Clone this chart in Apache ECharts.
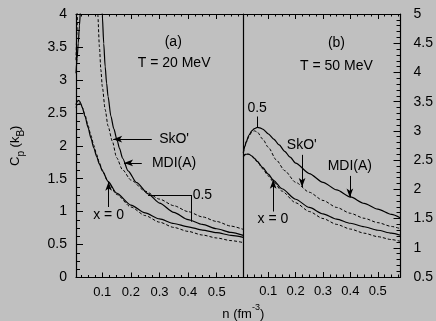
<!DOCTYPE html>
<html><head><meta charset="utf-8">
<script src="https://cdn.jsdelivr.net/npm/echarts@6/dist/echarts.min.js"></script>
<style>html,body{margin:0;padding:0;background:#c0c0c0}#c{width:436px;height:321px}</style>
</head><body><div id="c"></div>
<script>
// ---- tick labels ----
const xMajor = [0.1, 0.2, 0.3, 0.4, 0.5];
const xMinor = [0.025,0.05,0.075,0.125,0.15,0.175,0.225,0.25,0.275,0.325,0.35,0.375,0.425,0.45,0.475,0.525,0.55,0.575];
const yLeftRange = [0, 4];
const yRightRange = [0.5, 5];
const xRangeA = [0.008, 0.593];
const xRangeB = [0.009, 0.583];

// ---- panel (a), T = 20 MeV ----
const a_MDI_x05 = [[0.008,3.1],[0.012,3.33],[0.016,3.56],[0.02,3.82],[0.024,4.08],[0.04,5.0],[0.07,5.0],[0.09,4.6],[0.1,3.98],[0.105,3.55],[0.11,3.2],[0.115,2.95],[0.12,2.75],[0.13,2.45],[0.14,2.26],[0.152,2.08],[0.16,1.96],[0.171,1.81],[0.19,1.62],[0.22,1.44],[0.26,1.27],[0.3,1.13],[0.35,0.99],[0.4,0.88],[0.45,0.805],[0.5,0.74],[0.55,0.685],[0.593,0.64]];
const a_SkO_x05 = [[0.008,3.3],[0.011,3.7],[0.014,4.1],[0.03,5.0],[0.07,5.0],[0.08,4.3],[0.084,4.0],[0.09,3.5],[0.095,3.15],[0.1,2.9],[0.11,2.55],[0.12,2.3],[0.135,2.07],[0.15,1.82],[0.17,1.64],[0.2,1.48],[0.25,1.31],[0.3,1.19],[0.35,1.09],[0.4,1.0],[0.45,0.92],[0.5,0.85],[0.55,0.78],[0.593,0.73]];
const a_MDI_x0 = [[0.008,2.62],[0.012,2.67],[0.016,2.69],[0.02,2.68],[0.025,2.64],[0.03,2.58],[0.04,2.44],[0.05,2.28],[0.06,2.12],[0.07,1.97],[0.08,1.84],[0.09,1.72],[0.1,1.62],[0.12,1.46],[0.15,1.28],[0.2,1.1],[0.25,0.98],[0.3,0.89],[0.35,0.82],[0.4,0.77],[0.45,0.72],[0.5,0.68],[0.55,0.64],[0.593,0.61]];
const a_SkO_x0 = [[0.008,2.58],[0.012,2.62],[0.016,2.64],[0.02,2.645],[0.025,2.62],[0.03,2.58],[0.04,2.46],[0.05,2.31],[0.06,2.16],[0.07,2.01],[0.08,1.87],[0.09,1.74],[0.1,1.63],[0.12,1.45],[0.15,1.26],[0.2,1.07],[0.25,0.94],[0.3,0.84],[0.35,0.76],[0.4,0.7],[0.45,0.645],[0.5,0.6],[0.55,0.56],[0.593,0.53]];

// ---- panel (b), T = 50 MeV ----
const b_MDI_x05 = [[0.009,2.63],[0.015,2.74],[0.02,2.82],[0.03,2.93],[0.04,3.0],[0.05,3.04],[0.06,3.06],[0.07,3.05],[0.08,3.03],[0.1,2.95],[0.12,2.86],[0.14,2.76],[0.16,2.65],[0.18,2.55],[0.2,2.45],[0.25,2.27],[0.3,2.12],[0.35,1.99],[0.4,1.87],[0.45,1.76],[0.5,1.66],[0.55,1.57],[0.583,1.51]];
const b_SkO_x05 = [[0.009,2.62],[0.015,2.74],[0.02,2.81],[0.03,2.91],[0.04,2.98],[0.05,3.0],[0.06,2.98],[0.08,2.86],[0.1,2.72],[0.13,2.5],[0.16,2.32],[0.2,2.12],[0.25,1.95],[0.3,1.81],[0.35,1.69],[0.4,1.59],[0.45,1.505],[0.5,1.43],[0.55,1.365],[0.583,1.325]];
const b_MDI_x0 = [[0.009,2.56],[0.015,2.59],[0.02,2.6],[0.03,2.6],[0.04,2.57],[0.05,2.53],[0.06,2.48],[0.08,2.37],[0.1,2.26],[0.12,2.15],[0.15,2.01],[0.2,1.83],[0.25,1.69],[0.3,1.58],[0.35,1.49],[0.4,1.42],[0.45,1.36],[0.5,1.3],[0.55,1.25],[0.583,1.215]];
const b_SkO_x0 = [[0.009,2.57],[0.015,2.6],[0.02,2.61],[0.03,2.6],[0.04,2.57],[0.05,2.52],[0.06,2.47],[0.08,2.35],[0.1,2.23],[0.12,2.12],[0.15,1.97],[0.2,1.77],[0.25,1.62],[0.3,1.5],[0.35,1.4],[0.4,1.32],[0.45,1.25],[0.5,1.19],[0.55,1.14],[0.583,1.11]];

// ---- annotations (data coordinates) ----
const aTexts = [
  {t:'(a)', c:[0.348,3.58]}, {t:'T = 20 MeV', c:[0.351,3.26]},
  {t:"SkO'", c:[0.351,2.10]}, {t:'MDI(A)', c:[0.351,1.74]},
  {t:'0.5', c:[0.450,1.25]}, {t:'x = 0', c:[0.122,0.944]}
];
const aArrows = [ [[0.273,2.10],[0.138,2.10]], [[0.238,1.74],[0.176,1.74]], [[0.122,1.07],[0.122,1.455]] ];
const aLines = [ [[0.26,1.252],[0.4126,1.252]], [[0.4126,1.252],[0.4126,0.847]] ];
const bTexts = [
  {t:'(b)', c:[0.349,4.5]}, {t:'T = 50 MeV', c:[0.349,4.11]},
  {t:'0.5', c:[0.0596,3.39]}, {t:"SkO'", c:[0.2225,2.75]},
  {t:'MDI(A)', c:[0.398,2.40]}, {t:'x = 0', c:[0.117,1.49]}
];
const bArrows = [ [[0.2236,2.59],[0.2236,2.04]], [[0.398,2.23],[0.398,1.86]], [[0.118,1.62],[0.118,2.165]] ];
const bLines = [ [[0.06,3.246],[0.06,3.053]] ];

const FONT = "'Liberation Sans', Arial, Helvetica, sans-serif";
const BLACK = '#000';

function xAxesFor(grid, range) {
  const base = {type:'value', gridIndex:grid, min:range[0], max:range[1], splitLine:{show:false}};
  const line = {show:true, onZero:false, lineStyle:{color:BLACK, width:1.2}};
  return [
    Object.assign({}, base, {position:'bottom', axisLine:line,
      axisTick:{show:true, inside:true, length:5, customValues:xMajor, lineStyle:{color:BLACK}},
      axisLabel:{customValues:xMajor, margin:8, fontSize:13, color:BLACK, fontFamily:FONT}}),
    Object.assign({}, base, {position:'bottom', axisLine:{show:false, onZero:false},
      axisTick:{show:true, inside:true, length:2.5, customValues:xMinor, lineStyle:{color:BLACK}},
      axisLabel:{show:false}}),
    Object.assign({}, base, {position:'top', axisLine:line,
      axisTick:{show:true, inside:true, length:5, customValues:xMajor, lineStyle:{color:BLACK}},
      axisLabel:{show:false}}),
    Object.assign({}, base, {position:'top', axisLine:{show:false, onZero:false},
      axisTick:{show:true, inside:true, length:2.5, customValues:xMinor, lineStyle:{color:BLACK}},
      axisLabel:{show:false}})
  ];
}

const xAxis = xAxesFor(0, xRangeA).concat(xAxesFor(1, xRangeB));

const yAxis = [
  {type:'value', gridIndex:0, position:'left', min:yLeftRange[0], max:yLeftRange[1], interval:0.5,
   splitLine:{show:false},
   axisLine:{show:true, onZero:false, lineStyle:{color:BLACK, width:1.2}},
   axisTick:{show:true, inside:true, length:7, lineStyle:{color:BLACK}},
   minorTick:{show:true, splitNumber:4, length:4, lineStyle:{color:BLACK}},
   axisLabel:{fontSize:14, margin:9, color:BLACK, fontFamily:FONT},
   name:'{a|C}{s|p}{a| (k}{s|B}{a|)}', nameLocation:'middle', nameRotate:90, nameGap:50,
   nameTextStyle:{fontFamily:FONT, color:BLACK, rich:{
     a:{fontSize:13, lineHeight:17, verticalAlign:'top', fontFamily:FONT, color:BLACK},
     s:{fontSize:10, lineHeight:10, verticalAlign:'bottom', fontFamily:FONT, color:BLACK}}}},
  {type:'value', gridIndex:1, position:'right', min:yRightRange[0], max:yRightRange[1], interval:0.5,
   splitLine:{show:false},
   axisLine:{show:true, onZero:false, lineStyle:{color:BLACK, width:1.2}},
   axisTick:{show:true, inside:true, length:7, lineStyle:{color:BLACK}},
   minorTick:{show:true, splitNumber:5, length:4, lineStyle:{color:BLACK}},
   axisLabel:{fontSize:14, margin:13, color:BLACK, fontFamily:FONT}},
  {type:'value', gridIndex:1, position:'left', min:yRightRange[0], max:yRightRange[1],
   splitLine:{show:false},
   axisLine:{show:true, onZero:false, lineStyle:{color:BLACK, width:1.2}},
   axisTick:{show:false}, axisLabel:{show:false}}
];

// x axis name on panel (b) bottom axis, anchored at the shared edge
xAxis[4].name = '{a|n (fm}{b|-3}{a|)}';
xAxis[4].nameLocation = 'start';
xAxis[4].nameGap = 0;
xAxis[4].nameTextStyle = {align:'center', verticalAlign:'top', padding:[26,0,0,0], fontFamily:FONT, color:BLACK, rich:{
  a:{fontSize:13, lineHeight:18, verticalAlign:'bottom', fontFamily:FONT, color:BLACK},
  b:{fontSize:9, lineHeight:10, verticalAlign:'top', fontFamily:FONT, color:BLACK}}};

function curve(data, dashed, xi, yi, extra) {
  return Object.assign({
    type:'line', data:data, xAxisIndex:xi, yAxisIndex:yi, showSymbol:false, symbol:'none',
    smooth:0.25, smoothMonotone:'x', clip:true, silent:true,
    lineStyle:{color:BLACK, width:dashed?1:1.2, type:dashed?[3,2]:'solid'}
  }, extra||{});
}

function annot(texts, arrows, lines) {
  const ml = [];
  arrows.forEach(a => ml.push([{coord:a[0], symbol:'none'},{coord:a[1], symbol:'arrow'}]));
  lines.forEach(a => ml.push([{coord:a[0], symbol:'none'},{coord:a[1], symbol:'none'}]));
  return {
    markLine:{silent:true, animation:false, symbolSize:[5,9], label:{show:false},
      lineStyle:{color:BLACK, width:1, type:'solid'}, emphasis:{disabled:true}, data:ml},
    markPoint:{silent:true, animation:false, symbol:'circle', symbolSize:1,
      itemStyle:{color:'rgba(0,0,0,0)'},
      label:{show:true, position:'inside', color:BLACK, fontSize:14, fontFamily:FONT},
      data:texts.map(t => ({coord:t.c, value:0, label:{formatter:t.t}}))}
  };
}

const chart = echarts.init(document.getElementById('c'), null, {renderer:'canvas'});
chart.setOption({
  backgroundColor:'#c0c0c0',
  animation:false,
  grid:[
    {left:76, top:14, width:167.3, height:263.5},
    {left:243.3, top:14, width:158, height:263.5}
  ],
  xAxis:xAxis,
  yAxis:yAxis,
  series:[
    curve(a_MDI_x05, false, 0, 0, annot(aTexts, aArrows, aLines)),
    curve(a_SkO_x05, true, 0, 0),
    curve(a_MDI_x0, false, 0, 0),
    curve(a_SkO_x0, true, 0, 0),
    curve(b_MDI_x05, false, 4, 1, annot(bTexts, bArrows, bLines)),
    curve(b_SkO_x05, true, 4, 1),
    curve(b_MDI_x0, false, 4, 1),
    curve(b_SkO_x0, true, 4, 1)
  ]
});
</script></body></html>
